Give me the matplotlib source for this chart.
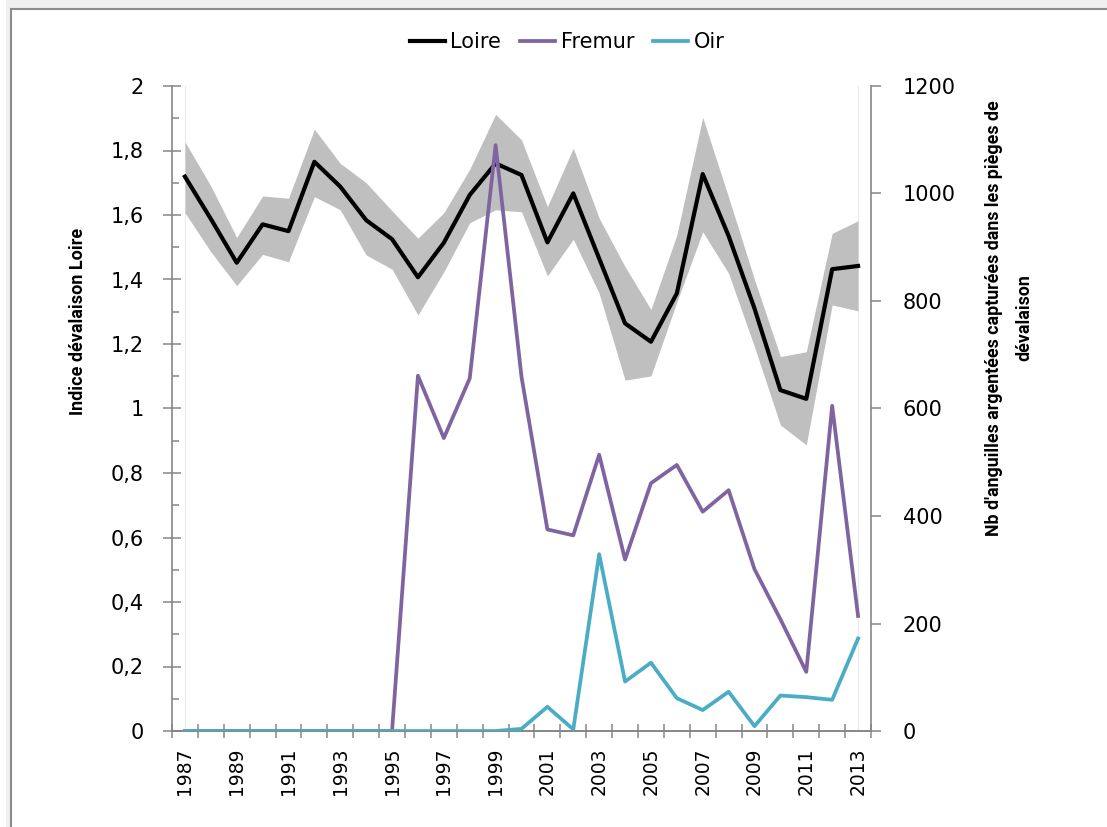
import matplotlib
matplotlib.use("Agg")
import matplotlib.pyplot as plt
from matplotlib.ticker import FixedLocator, FuncFormatter, MultipleLocator
from matplotlib.patches import Rectangle
import numpy as np

years = list(range(1987, 2014))
loire = [1.719, 1.588, 1.452, 1.571, 1.550, 1.765, 1.688, 1.584, 1.525, 1.407,
         1.514, 1.662, 1.760, 1.724, 1.515, 1.667, 1.465, 1.264, 1.207, 1.357,
         1.727, 1.535, 1.310, 1.057, 1.030, 1.432, 1.442]
loire_upper = [1.827, 1.690, 1.530, 1.659, 1.652, 1.866, 1.760, 1.700, 1.613, 1.528,
               1.607, 1.742, 1.912, 1.833, 1.626, 1.807, 1.590, 1.440, 1.307, 1.538,
               1.903, 1.655, 1.400, 1.161, 1.176, 1.543, 1.582]
loire_lower = [1.607, 1.486, 1.381, 1.478, 1.455, 1.657, 1.616, 1.476, 1.432, 1.290,
               1.424, 1.576, 1.616, 1.610, 1.411, 1.525, 1.357, 1.088, 1.101, 1.330,
               1.548, 1.419, 1.191, 0.949, 0.887, 1.321, 1.303]
fremur = [0, 0, 0, 0, 0, 0, 0, 0, 0, 661, 545, 656, 1090, 659, 375, 364, 514, 319,
          461, 495, 408, 448, 301, 208, 110, 605, 214]
oir = [0, 0, 0, 0, 0, 0, 0, 0, 0, 0, 0, 0, 0, 4, 45, 3, 329, 92, 127, 61, 39, 73,
       9, 66, 63, 58, 172]
year_labels = [str(y) for y in years[::2]]

W, H = 1107, 827
fig = plt.figure(figsize=(W / 100, H / 100), dpi=100)
fig.patch.set_facecolor("white")
# outer frame (Excel chart area)
fig.patches.append(Rectangle((6 / W, 0), 1, 1, transform=fig.transFigure,
                             facecolor="#F0F0F0", edgecolor="none", zorder=-10))
fig.patches.append(Rectangle((11 / W, -0.1), 1, 1 - 8.5 / H + 0.1, transform=fig.transFigure,
                             facecolor="white", edgecolor="#8C8C8C", linewidth=1.5, zorder=-9))

ax = fig.add_axes([172 / W, 1 - 731 / H, (871 - 172) / W, (731 - 86) / H])
ax.patch.set_alpha(0)
ax2 = ax.twinx()

spine_col = "#868686"
tick_font = "DejaVu Sans"
title_font = ["Roboto", "DejaVu Sans"]

ax.fill_between(years, loire_lower, loire_upper, color="#BFBFBF", linewidth=0, zorder=1)
l1, = ax.plot(years, loire, color="black", linewidth=3.0, label="Loire", zorder=3)
ax.axvline(years[0], color="#EBEBEB", linewidth=0.8, zorder=0)
ax.axvline(years[-1], color="#EBEBEB", linewidth=0.8, zorder=0)
l2, = ax2.plot(years, fremur, color="#8064A2", linewidth=2.7, label="Fremur", zorder=3)
l3, = ax2.plot(years, oir, color="#4BACC6", linewidth=2.7, label="Oir", zorder=4)

ax.set_xlim(1986.5, 2013.5)
ax.set_ylim(0, 2)
ax2.set_ylim(0, 1200)

for a in (ax, ax2):
    a.spines["top"].set_visible(False)
    for s in ("left", "right", "bottom"):
        a.spines[s].set_color(spine_col)
        a.spines[s].set_linewidth(1.2)
ax.spines["right"].set_visible(False)
ax2.spines["left"].set_visible(False)

# x axis: ticks on category boundaries, labels every other year
ax.xaxis.set_major_locator(FixedLocator(np.arange(1986.5, 2014, 1.0)))
ax.xaxis.set_major_formatter(FuncFormatter(lambda v, p: ""))
ax.set_xticks(years[::2], minor=True)
ax.set_xticklabels(year_labels, minor=True, rotation=90, fontsize=13.5, family=tick_font)
ax.tick_params(axis="x", which="major", direction="inout", length=10, width=1.1, color=spine_col)
ax.tick_params(axis="x", which="minor", length=0, pad=12)

# left axis
ax.yaxis.set_major_locator(MultipleLocator(0.2))
ax.yaxis.set_minor_locator(MultipleLocator(0.1))
ax.yaxis.set_major_formatter(FuncFormatter(lambda v, p: ("%g" % round(v, 1)).replace(".", ",")))
ax.tick_params(axis="y", which="major", direction="inout", length=13, width=1.1,
               color=spine_col, labelsize=15, pad=14)
ax.tick_params(axis="y", which="minor", direction="in", length=5, width=1.1, color=spine_col)
for t in ax.get_yticklabels():
    t.set_family(tick_font)

# right axis
ax2.yaxis.set_major_locator(MultipleLocator(200))
ax2.tick_params(axis="y", which="major", direction="out", length=7, width=1.1,
                color=spine_col, labelsize=15, pad=16)
for t in ax2.get_yticklabels():
    t.set_family(tick_font)

fig.text(78 / W, 1 - 321 / H, "Indice dévalaison Loire", rotation=90, ha="center", va="center",
         fontsize=13, fontweight="bold", family=title_font)
fig.text(1009 / W, 1 - 318 / H,
         "Nb d'anguilles argentées capturées dans les pièges de\ndévalaison",
         rotation=90, ha="center", va="center", multialignment="center",
         fontsize=12.8, fontweight="bold", family=title_font, linespacing=1.9)

leg = fig.legend(handles=[l1, l2, l3], labels=["Loire", "Fremur", "Oir"], loc="center",
                 bbox_to_anchor=(567 / W, 1 - 42 / H), ncol=3, frameon=False,
                 prop={"family": tick_font, "size": 15}, handlelength=1.7,
                 handletextpad=0.25, columnspacing=0.9)

fig.savefig("out.png", dpi=100)
